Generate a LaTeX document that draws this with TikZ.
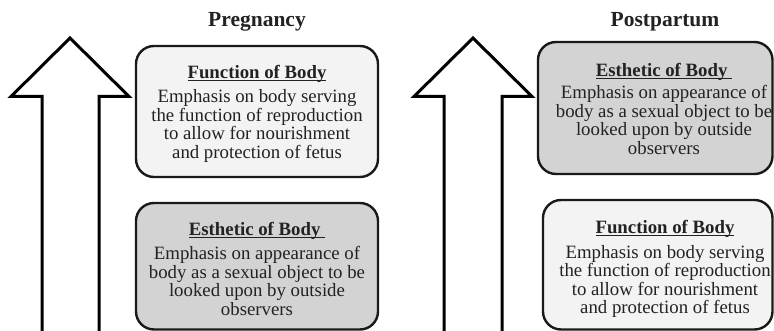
\documentclass[tikz,border=0pt]{standalone}
\usepackage{fontspec}
\setmainfont{Liberation Serif}
\definecolor{lightfill}{HTML}{F3F3F3}
\definecolor{darkfill}{HTML}{D2D3D2}
\definecolor{txtgray}{HTML}{222222}
\newcommand{\titleul}[1]{\setbox0\hbox{#1}\rlap{\rule[-3.4pt]{\wd0}{1.4pt}}\box0}
\tikzset{
  bodybox/.style={draw=black!90, line width=2.4pt, rounded corners=18pt, inner sep=0pt, outer sep=0pt},
  lightbox/.style={bodybox, fill=lightfill},
  darkbox/.style={bodybox, fill=darkfill},
  boxtext/.style={align=center, inner sep=0pt, anchor=north, text=txtgray, font=\fontsize{18.8}{18.4}\selectfont},
  phase/.style={inner sep=0pt, anchor=base, text=txtgray, font=\fontsize{21.5}{24}\selectfont\bfseries},
  bigarrow/.style={draw=black, line width=3pt, fill=white, miter limit=10}
}
\begin{document}
\begin{tikzpicture}[x=1pt,y=-1pt]
\useasboundingbox (0,0) rectangle (774,331);
\clip (0,0) rectangle (774,331);
% arrows
\coordinate (a1b) at (70,340);
\draw[bigarrow] (42,340) -- (42,96.5) -- (11,96.5) -- (70,38) -- (129,96.5) -- (99,96.5) -- (99,340);
\coordinate (a2b) at (473,340);
\draw[bigarrow] (444,340) -- (444,96.5) -- (414,96.5) -- (473,38) -- (532,96.5) -- (502,96.5) -- (502,340);
% phase titles
\node[phase] (preg) at (257,27) {Pregnancy};
\node[phase] (post) at (665,27) {Postpartum};
% boxes
\node[lightbox, minimum width=242pt, minimum height=131pt] (b1) at (257,111.5) {};
\node[darkbox, minimum width=242pt, minimum height=126.5pt] (b2) at (257,266.25) {};
\node[darkbox, minimum width=234.5pt, minimum height=132pt] (b3) at (655.25,108) {};
\node[lightbox, minimum width=229.5pt, minimum height=129.5pt] (b4) at (657.75,264.75) {};
% texts
\node[boxtext] (t1) at (257,64.6) {{\bfseries\titleul{Function of Body}}\\[6.5pt]
Emphasis on body serving\\the function of reproduction\\to allow for nourishment\\and protection of fetus};
\node[boxtext] (t2) at (257,221.6) {{\bfseries\titleul{Esthetic of Body\ }}\\[6.5pt]
Emphasis on appearance of\\body as a sexual object to be\\looked upon by outside\\observers};
\node[boxtext] (t3) at (664,62.6) {{\bfseries\titleul{Esthetic of Body\ }}\\[4.5pt]
Emphasis on appearance of\\body as a sexual object to be\\looked upon by outside\\observers};
\node[boxtext] (t4) at (665,219.6) {{\bfseries\titleul{Function of Body}}\\[7pt]
Emphasis on body serving\\the function of reproduction\\to allow for nourishment\\and protection of fetus};
\end{tikzpicture}
\end{document}
